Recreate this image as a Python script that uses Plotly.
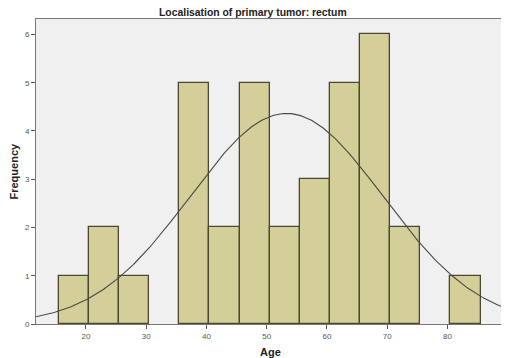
import numpy as np
import plotly.graph_objects as go

# Histogram data (bins of width 5)
bin_starts = [15.5, 20.5, 25.5, 30.5, 35.5, 40.5, 45.5, 50.5, 55.5, 60.5, 65.5, 70.5, 75.5, 80.5]
counts = [1, 2, 1, 0, 5, 2, 5, 2, 3, 5, 6, 2, 0, 1]
bin_width = 5
mean_age = 53.3
sd_age = 16.0
n_total = sum(counts)

title_text = "Localisation of primary tumor: rectum"
x_title = "Age"
y_title = "Frequency"
x_ticks = [20, 30, 40, 50, 60, 70, 80]
y_ticks = [0, 1, 2, 3, 4, 5, 6]

centers = [s + bin_width / 2 for s in bin_starts]

fig = go.Figure()
fig.add_trace(go.Bar(
    x=centers, y=counts, width=bin_width,
    marker=dict(color="#d4cf98",
                line=dict(color="#4b4733", width=[1.3 if c > 0 else 0 for c in counts])),
    hoverinfo="x+y",
))

xs = np.linspace(11.7, 89.4, 300)
ys = n_total * bin_width / (sd_age * np.sqrt(2 * np.pi)) * np.exp(-0.5 * ((xs - mean_age) / sd_age) ** 2)
fig.add_trace(go.Scatter(x=xs, y=ys, mode="lines", line=dict(color="#4a4a44", width=1.1), hoverinfo="skip"))

# page body has an 8px margin, so the figure is sized to the visible area
W, H = 501, 350
L, R, T, B = 28, 5, 11, 34
PW, PH = W - L - R, H - T - B
fig.update_layout(
    width=W, height=H,
    margin=dict(l=L, r=R, t=T, b=B, autoexpand=False),
    paper_bgcolor="white", plot_bgcolor="#f0f0f0",
    showlegend=False, bargap=0,
    font=dict(family="Liberation Sans, Arial", color="#444"),
    annotations=[
        dict(text="<b>" + title_text + "</b>", xref="paper", yref="paper", x=(253 - 8 - L) / PW,
             y=(H - 4.7 - B) / PH, xanchor="center", yanchor="middle", showarrow=False,
             font=dict(family="Liberation Sans, Arial", size=10.4, color="#222")),
        dict(text="<b>" + x_title + "</b>", xref="paper", yref="paper", x=(270 - 8 - L) / PW,
             y=-(352 - 324) / PH, xanchor="center", yanchor="middle", showarrow=False,
             font=dict(family="Liberation Sans, Arial", size=11, color="#222")),
        dict(text="<b>" + y_title + "</b>", xref="paper", yref="paper", x=-(36 - 13) / PW, y=0.5,
             xanchor="center", yanchor="middle", showarrow=False, textangle=-90,
             font=dict(family="Liberation Sans, Arial", size=11, color="#222")),
    ],
)
fig.update_xaxes(
    range=[11.7, 89.4], tickvals=x_ticks, ticks="outside", ticklen=4, tickcolor="#555",
    tickfont=dict(size=8, color="#555"), showgrid=False, zeroline=False, automargin=False,
    showline=True, linecolor="#777", linewidth=1, mirror=True,
)
fig.update_yaxes(
    range=[0, 6.32], tickvals=y_ticks, ticks="outside", ticklen=4, tickcolor="#555",
    tickfont=dict(size=8, color="#555"), showgrid=False, zeroline=False, automargin=False,
    showline=True, linecolor="#777", linewidth=1, mirror=True,
)

fig.write_html("out.html")
